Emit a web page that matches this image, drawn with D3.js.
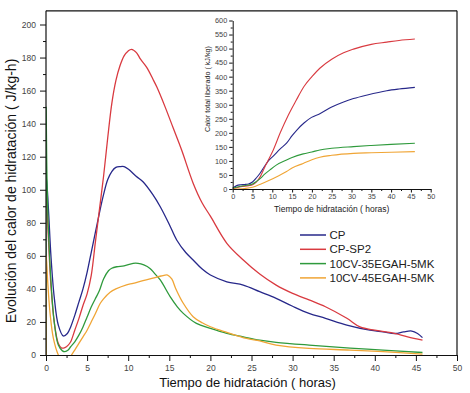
<!DOCTYPE html>
<html><head><meta charset="utf-8">
<script src="https://cdn.jsdelivr.net/npm/d3@7"></script>
<style>
body{margin:0;background:#fff;}
text{font-family:"Liberation Sans",Arial,sans-serif;}
</style></head>
<body><svg id="c" width="470" height="393"></svg>
<script>
// ---------- data ----------
const seriesNames = ["CP","CP-SP2","10CV-35EGAH-5MK","10CV-45EGAH-5MK"];
const seriesColors = ["#27288a","#d93a40","#2f9a3c","#f0a535"];
const xTicksMain = [0,5,10,15,20,25,30,35,40,45,50];
const yTicksMain = [0,20,40,60,80,100,120,140,160,180,200];
const xTicksInset = [0,5,10,15,20,25,30,35,40,45,50];
const yTicksInset = [0,50,100,150,200,250,300,350,400,450,500,550,600];

// heat rate (J/kg-h) vs time (h): [t, v]
const rateCP = [[0,0],[0.04,108],[0.3,88],[0.6,60],[1,35],[1.5,18],[2.1,11.5],[2.6,13],[3,17],[3.5,24],[4,32],[4.5,40],[5,50],[5.5,62],[6,74],[6.5,86],[7,97],[7.5,106],[8,111],[8.5,113.5],[9,114],[9.5,114],[10,112.5],[11,108],[11.8,104.8],[13,97],[13.9,89.7],[15,79],[15.9,69.6],[17,62],[17.9,57.5],[19,52],[20,48.4],[22,44.3],[24,42.3],[26,38.3],[28,34.3],[30,29.5],[32,25.2],[34,22.2],[36.6,18.1],[39.4,15],[41,14],[42.5,13],[43.5,14],[44.5,14.5],[45.2,13],[45.8,10.5]];
const rateSP2 = [[0,0],[0.04,95],[0.3,70],[0.6,42],[1,20],[1.5,7],[1.9,4.2],[2.3,4.5],[2.7,6],[3,8],[3.5,15],[4,22],[4.5,30],[5,37],[5.5,48],[6,68],[6.5,88],[7,108],[7.5,131],[8,152],[8.5,166],[9,175],[9.5,181],[10,184],[10.4,185],[11,183],[11.5,179],[12.25,174],[13,167],[13.5,162],[14.5,150],[15.5,137],[16.5,124],[17.9,104],[19,92],[20,84],[22,67.6],[24,57.5],[26,49],[28,42.3],[30,37.3],[32,33.3],[34,29.2],[36.6,22.2],[38.2,17],[40,15],[42,13.5],[44,11],[45.8,9]];
const rate35 = [[0,0],[0.02,150],[0.08,120],[0.15,100],[0.3,75],[0.6,45],[1,20],[1.5,6],[2,2.5],[2.3,2],[2.7,3],[3,5],[3.5,8],[4,12],[4.5,17],[5,23],[5.5,29],[6,34],[6.5,39],[7,46],[7.6,51],[8,52.5],[8.6,53.4],[9.5,54],[10.6,55.5],[11.2,55.5],[11.9,54.5],[12.65,52.4],[13.2,49.4],[13.9,45.4],[15.1,35.3],[16,29],[16.7,25.2],[18.3,19.1],[20,16.1],[22,13.1],[24,11],[26,9],[28,7.7],[32,6],[37,4.2],[41,3],[45.8,1.5]];
const rate45 = [[0,0],[0.03,60],[0.2,45],[0.5,25],[0.9,10],[1.5,0],[2,-4],[2.5,-4],[3.1,0],[3.5,3],[4,7],[4.5,11],[5,15],[5.5,20],[6,25],[6.57,31],[7,34],[7.8,38],[8.5,40],[9.8,42.5],[10.6,43.4],[11.8,45],[13,46.5],[14,47.8],[14.8,48.4],[15.3,46],[15.8,40],[16.7,31.3],[17.9,23.2],[19,19.5],[20,17.1],[22,13.7],[24.4,10],[26,8.5],[28,6],[32,4],[37,3],[41,2],[45.8,0.5]];

// cumulative heat (kJ/kg) vs time (h)
const cumCP = [[0,3],[1,12],[2,15],[3,16],[4,18],[5,25],[6,40],[7,58],[8,80],[9,100],[10.3,118],[12,143],[13.6,163],[15,190],[16.2,210],[18,235],[19.9,255],[22,268],[25,292],[28,310],[30.5,322],[34,335],[38.9,350],[42,356],[46,362]];
const cumSP2 = [[0,0],[2,8],[4,12],[5,15],[6,25],[7,45],[8,75],[9,103],[10.25,139],[12,200],[14,262],[16,315],[18,365],[20,400],[22,430],[25,462],[28,485],[30.5,498],[35,515],[38.9,523],[42,529],[46,534]];
const cum35 = [[0,3],[2,10],[4,14],[5,18],[6,27],[7,38],[8,52],[9.4,68],[11,85],[13.6,103],[15,112],[17.8,125],[20,132],[22,139],[25,145],[30.5,151],[35,155],[40,159],[46,163]];
const cum45 = [[0,0],[3,2],[5,6],[7,17],[9.4,32],[11,43],[13.6,62],[15,75],[17.8,91],[20,104],[22,113],[25,120],[30.5,127],[35,129],[40,131],[46,133]];

const rates = [rateCP, rateSP2, rate35, rate45];
const cums = [cumCP, cumSP2, cum35, cum45];

// ---------- drawing ----------
const svg = d3.select("#c");
const axisColor = "#111", labColor = "#444";

// main scales
const x = d3.scaleLinear().domain([0,50]).range([46,457]);
const y = d3.scaleLinear().domain([0,200]).range([355,24.5]);
const yTop = y(208.3);

svg.append("clipPath").attr("id","clipMain").append("rect")
  .attr("x",x(0)).attr("y",yTop).attr("width",x(50)-x(0)).attr("height",y(0)-yTop);

const lineMain = d3.line().x(d=>x(d[0])).y(d=>y(d[1])).curve(d3.curveCatmullRom.alpha(0.5));
const gLines = svg.append("g").attr("clip-path","url(#clipMain)");
rates.forEach((r,i)=>{
  gLines.append("path").attr("d",lineMain(r)).attr("fill","none")
    .attr("stroke",seriesColors[i]).attr("stroke-width",1.3).attr("stroke-linejoin","round");
});

// frame
svg.append("line").attr("x1",x(0)).attr("x2",x(50)).attr("y1",yTop).attr("y2",yTop).attr("stroke",axisColor).attr("stroke-width",1.2);
svg.append("line").attr("x1",x(50)).attr("x2",x(50)).attr("y1",yTop).attr("y2",y(0)).attr("stroke",axisColor).attr("stroke-width",1.2);

function styleAxis(g, fs){
  g.selectAll(".domain").attr("stroke",axisColor).attr("stroke-width",1.2);
  g.selectAll(".tick line").attr("stroke",axisColor).attr("stroke-width",1);
  g.selectAll(".tick text").attr("fill",labColor).style("font-size",fs+"px").style("font-family","'Liberation Sans',Arial,sans-serif");
}
// main y axis
const minorY = d3.range(10,210,20);
const gyMinor = svg.append("g").attr("transform",`translate(${x(0)},0)`)
  .call(d3.axisLeft(y).tickValues(minorY).tickSize(3).tickFormat(""));
gyMinor.select(".domain").remove();
gyMinor.selectAll(".tick line").attr("stroke",axisColor);
const gy = svg.append("g").attr("transform",`translate(${x(0)},0)`)
  .call(d3.axisLeft(y).tickValues(yTicksMain).tickSize(6).tickPadding(4).tickSizeOuter(0));
gy.select(".domain").attr("d",`M0,${y(0)}V${yTop}`);
styleAxis(gy,8.5);

// main x axis
const minorX = d3.range(2.5,50,5);
const gxMinor = svg.append("g").attr("transform",`translate(0,${y(0)})`)
  .call(d3.axisBottom(x).tickValues(minorX).tickSize(3).tickFormat(""));
gxMinor.select(".domain").remove();
gxMinor.selectAll(".tick line").attr("stroke",axisColor);
const gx = svg.append("g").attr("transform",`translate(0,${y(0)})`)
  .call(d3.axisBottom(x).tickValues(xTicksMain).tickSize(6).tickPadding(4).tickSizeOuter(0));
styleAxis(gx,8.5);

// titles
svg.append("text").attr("x",(x(0)+x(50))/2 - 4).attr("y",387).attr("text-anchor","middle")
  .style("font-size","13px").attr("fill","#111").text("Tiempo de hidratación  ( horas)");
svg.append("text").attr("transform",`translate(16,191) rotate(-90)`).attr("text-anchor","middle")
  .style("font-size","14px").attr("fill","#111").text("Evolución del calor de hidratación  ( J/kg-h)");

// legend
const lg = svg.append("g");
seriesNames.forEach((n,i)=>{
  const yy = 235 + i*14.3;
  lg.append("line").attr("x1",300).attr("x2",326).attr("y1",yy).attr("y2",yy)
    .attr("stroke",seriesColors[i]).attr("stroke-width",1.5);
  lg.append("text").attr("x",329.5).attr("y",yy+4).style("font-size","11.5px").attr("fill","#222").text(n);
});

// ---------- inset ----------
const xi = d3.scaleLinear().domain([0,50]).range([232.7,430.7]);
const yi = d3.scaleLinear().domain([0,600]).range([189,20.5]);
const lineIn = d3.line().x(d=>xi(d[0])).y(d=>yi(d[1])).curve(d3.curveMonotoneX);
cums.forEach((r,i)=>{
  svg.append("path").attr("d",lineIn(r)).attr("fill","none")
    .attr("stroke",seriesColors[i]).attr("stroke-width",1.1);
});
const minorYi = d3.range(25,600,50);
const gyiMinor = svg.append("g").attr("transform",`translate(${xi(0)},0)`)
  .call(d3.axisLeft(yi).tickValues(minorYi).tickSize(2).tickFormat(""));
gyiMinor.select(".domain").remove();
gyiMinor.selectAll(".tick line").attr("stroke",axisColor);
const gyi = svg.append("g").attr("transform",`translate(${xi(0)},0)`)
  .call(d3.axisLeft(yi).tickValues(yTicksInset).tickSize(3.5).tickPadding(2).tickSizeOuter(0));
styleAxis(gyi,7.3);
gyi.select(".domain").attr("stroke-width",1);
const minorXi = d3.range(2.5,50,5);
const gxiMinor = svg.append("g").attr("transform",`translate(0,${yi(0)})`)
  .call(d3.axisBottom(xi).tickValues(minorXi).tickSize(2).tickFormat(""));
gxiMinor.select(".domain").remove();
gxiMinor.selectAll(".tick line").attr("stroke",axisColor);
const gxi = svg.append("g").attr("transform",`translate(0,${yi(0)})`)
  .call(d3.axisBottom(xi).tickValues(xTicksInset).tickSize(3.5).tickPadding(1.5).tickSizeOuter(0));
styleAxis(gxi,7.3);
gxi.select(".domain").attr("stroke-width",1);

svg.append("text").attr("x",(xi(0)+xi(50))/2).attr("y",212).attr("text-anchor","middle")
  .style("font-size","8.5px").attr("fill","#222").text("Tiempo de hidratación  ( horas)");
svg.append("text").attr("transform",`translate(210,89) rotate(-90)`).attr("text-anchor","middle")
  .style("font-size","7.2px").attr("fill","#222").text("Calor total liberado  ( kJ/kg)");
</script></body></html>
